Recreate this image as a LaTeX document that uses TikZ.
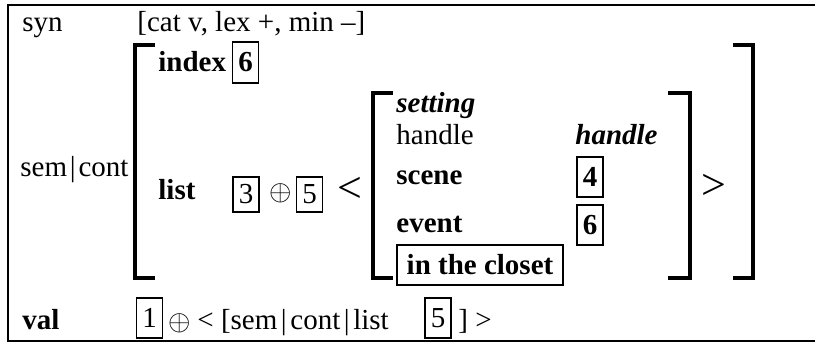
\documentclass[tikz,border=0pt]{standalone}
\usepackage{fontspec}
\setmainfont{Liberation Serif}
\usetikzlibrary{positioning}
\newcommand{\pth}{\kern1.8pt|\kern1.8pt}
\tikzset{
  avm/.style={inner sep=0pt, anchor=base west, font=\fontsize{14.5}{17}\selectfont},
  tagbox/.style={draw, line width=0.6pt, inner sep=0pt, minimum width=13pt, minimum height=20pt, font=\fontsize{14.5}{17}\selectfont},
  brack/.style={line width=2pt},
  bigsym/.style={inner sep=0pt, font=\fontsize{22}{24}\selectfont},
  plus/.style={inner sep=0pt, font=\fontsize{15.5}{18}\selectfont}
}
\begin{document}
\begin{tikzpicture}[x=0.5pt,y=-0.5pt]
\useasboundingbox (0,0) rectangle (815,346);
\draw[line width=1pt] (816,5) -- (8,5) -- (8,341) -- (816,341);
\node[avm] (syn) at (22,32) {syn};
\node[avm] (synval) at (137,32) {[cat v, lex +, min --]};
\node[avm] (semcont) at (20,177) {sem\kern1.4pt|\kern1.4pt cont};
\node[avm] (val) at (22,330) {\bfseries val};
% outer AVM
\draw[brack] (155,45) -- (135,45) -- (135,278) -- (155,278);
\draw[brack] (733,45) -- (753,45) -- (753,278) -- (733,278);
\node[avm] (index) at (158,72) {\bfseries index};
\node[tagbox, minimum height=20.5pt] (idx6) at (245.5,62.5) {\bfseries 6};
\node[avm] (list) at (158,200) {\bfseries list};
\node[tagbox, minimum height=17.5pt] (lst3) at (246,194.5) {3};
\node[plus] (lstplus) at (281,193) {$\oplus$};
\node[tagbox, minimum height=17.5pt] (lst5) at (309.5,194.5) {5};
\node[bigsym] (lt) at (349.5,190) {<};
\node[bigsym] (gt) at (713.5,186.5) {>};
% inner AVM
\draw[brack] (393,93) -- (373,93) -- (373,278) -- (393,278);
\draw[brack] (668,93) -- (690,93) -- (690,278) -- (668,278);
\node[avm] (setting) at (396,113) {\bfseries\itshape setting};
\node[avm] (handle) at (396,145) {handle};
\node[avm] (handleval) at (575,145) {\bfseries\itshape handle};
\node[avm] (scene) at (396,185) {\bfseries scene};
\node[tagbox] (sc4) at (590,177) {\bfseries 4};
\node[avm] (event) at (396,233) {\bfseries event};
\node[tagbox] (ev6) at (590,225) {\bfseries 6};
\node[tagbox, minimum width=83pt] (closet) at (480,265) {\bfseries in the closet};
% val row
\node[tagbox] (val1) at (149.5,318) {1};
\node[plus] (valplus) at (180,323) {$\oplus$};
\node[avm] (vallist) at (197,330) {< [sem\pth cont\pth list};
\node[tagbox] (val5) at (438,318) {5};
\node[avm] (valend) at (458,330) {] >};
\end{tikzpicture}
\end{document}
